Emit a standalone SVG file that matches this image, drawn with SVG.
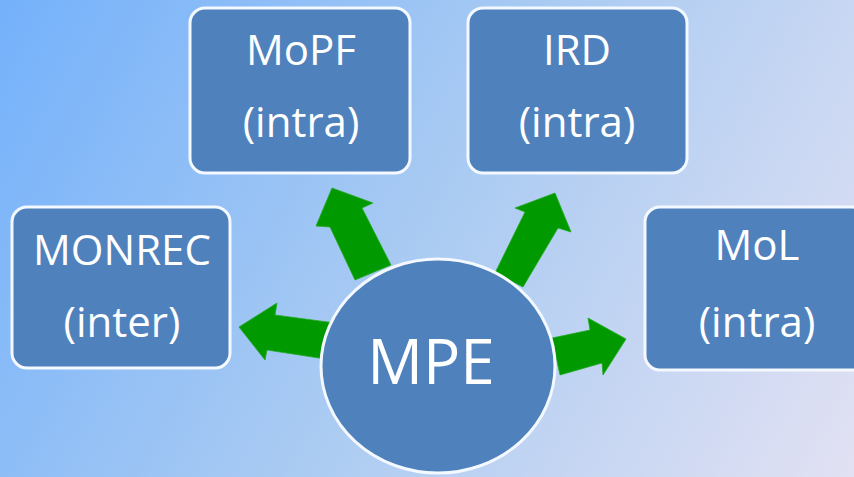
<svg xmlns="http://www.w3.org/2000/svg" width="854" height="477" viewBox="0 0 854 477">
  <defs>
    <linearGradient id="bg" x1="0" y1="0" x2="854" y2="477" gradientUnits="userSpaceOnUse">
      <stop offset="0" stop-color="#74b1fb"/>
      <stop offset="0.5" stop-color="#aacbf2"/>
      <stop offset="1" stop-color="#e2e1f3"/>
    </linearGradient>
  </defs>
  <style>
    .box { fill: #4f81bd; stroke: #f4f8ff; stroke-width: 3; }
    .lbl { fill: #ffffff; font-family: "Open Sans", "Lato", sans-serif; font-size: 42px; text-anchor: middle; }
    .big { font-size: 62px; }
    .arrow { fill: #009a00; stroke: #22aa22; stroke-width: 0.8; }
  </style>
  <rect x="0" y="0" width="854" height="477" fill="url(#bg)"/>

  <g id="connectors">
    <polygon class="arrow" points="332,188 373,203 362,208 391,265 355,280 330,227 316,226"/>
    <polygon class="arrow" points="555,193 571,232 558,228 523,287 495,273 525,212 515,208"/>
    <polygon class="arrow" points="239,327 277,303 275,315 335,323 332,360 267,350 265,360"/>
    <polygon class="arrow" points="626,339 603,375 602,363 560,375 552,338 590,330 588,318"/>
  </g>

  <g id="node-mopf">
    <rect class="box" x="190" y="8" width="220" height="165" rx="15"/>
    <text class="lbl" x="301" y="65">MoPF</text>
    <text class="lbl" x="301" y="137">(intra)</text>
  </g>
  <g id="node-ird">
    <rect class="box" x="468" y="8" width="219" height="165" rx="15"/>
    <text class="lbl" x="577" y="65">IRD</text>
    <text class="lbl" x="577" y="137">(intra)</text>
  </g>
  <g id="node-monrec">
    <rect class="box" x="12" y="207" width="218" height="161" rx="15"/>
    <text class="lbl" x="122" y="265">MONREC</text>
    <text class="lbl" x="122" y="337">(inter)</text>
  </g>
  <g id="node-mol">
    <rect class="box" x="645" y="207" width="222" height="163" rx="15"/>
    <text class="lbl" x="757" y="260">MoL</text>
    <text class="lbl" x="757" y="337">(intra)</text>
  </g>
  <g id="node-mpe">
    <ellipse class="box" cx="438" cy="366" rx="117" ry="107"/>
    <text class="lbl big" x="431" y="384">MPE</text>
  </g>
</svg>
